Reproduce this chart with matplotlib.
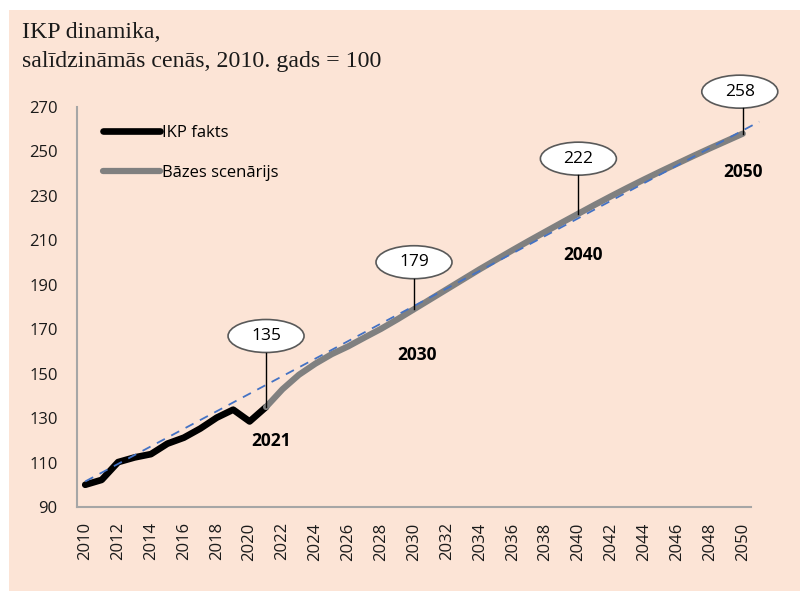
import matplotlib
matplotlib.use('Agg')
import matplotlib.pyplot as plt
from matplotlib.patches import Ellipse, Rectangle
from matplotlib.transforms import ScaledTranslation
from matplotlib.lines import Line2D

# ---- data ----
fact_years = list(range(2010, 2022))
fact_values = [100, 102.2, 110.2, 112.3, 113.8, 118.5, 121.2, 125.3, 130.2, 133.8, 128.5, 135]

scen_years = list(range(2021, 2051))
scen_values = [135, 143, 149.5, 154.5, 158.8, 162.3, 166.3, 170.2, 174.5, 179,
               183.5, 188, 192.5, 197, 201.3, 205.6, 209.8, 213.9, 218, 222,
               226, 229.9, 233.7, 237.4, 241, 244.5, 248, 251.4, 254.7, 258]

trend_years = [2010, 2051]
trend_values = [101.5, 263.4]

callout_years = [2021, 2030, 2040, 2050]
callout_values = [135, 179, 222, 258]
callout_labels = ['135', '179', '222', '258']
year_labels = ['2021', '2030', '2040', '2050']

x_ticks = list(range(2010, 2051, 2))
y_ticks = list(range(90, 271, 20))

title_lines = ['IKP dinamika,', 'salīdzināmās cenās, 2010. gads = 100']
legend_labels = ['IKP fakts', 'Bāzes scenārijs']

# ---- styles ----
BG = '#FCE4D6'
SANS = ['Open Sans', 'DejaVu Sans']
# callout offsets in pixels (dx, dy up)
callout_offsets = [(0, 71), (0, 47), (0, 55), (-3, 42)]
yearlabel_offsets = [(5, -33.5), (3.5, -46), (5, -41), (0, -38)]
ell_w, ell_h = 76, 33

fig = plt.figure(figsize=(8, 5.91), dpi=100)
bg = Rectangle((9 / 800, 0), 1, 581 / 591, transform=fig.transFigure,
               facecolor=BG, edgecolor='none', zorder=-10)
fig.patches.append(bg)

ax = fig.add_axes([77 / 800, 84 / 591, 674 / 800, 400 / 591])
ax.set_zorder(1)
ax.patch.set_alpha(0)

ax.plot(fact_years, fact_values, color='black', lw=4.8, solid_capstyle='round',
        solid_joinstyle='round', zorder=3, label=legend_labels[0])
ax.plot(scen_years, scen_values, color='#808080', lw=4.5, solid_capstyle='round',
        solid_joinstyle='round', zorder=4, label=legend_labels[1])
ax.plot(trend_years, trend_values, color='#4472C4', lw=1.3, ls=(0, (5, 4)),
        zorder=5, clip_on=False)

ax.set_xlim(2009.5, 2050.5)
ax.set_ylim(90, 270)
ax.set_xticks(x_ticks)
ax.set_xticklabels([str(t) for t in x_ticks], rotation=90, family=SANS, fontsize=12)
ax.set_yticks(y_ticks)
ax.set_yticklabels([str(t) for t in y_ticks], family=SANS, fontsize=12)
ax.tick_params(axis='both', length=0, colors='#1a1a1a')
ax.tick_params(axis='y', pad=14)
ax.tick_params(axis='x', pad=11)
for s in ['top', 'right']:
    ax.spines[s].set_visible(False)
for s in ['left', 'bottom']:
    ax.spines[s].set_color('#a6a6a6')
    ax.spines[s].set_linewidth(1.5)

leg = ax.legend(loc='upper left', bbox_to_anchor=(0.0386, 0.956), frameon=False,
                handlelength=3.4, handletextpad=0.15, labelspacing=1.46,
                borderpad=0, borderaxespad=0, prop={'family': SANS, 'size': 12})

# callouts
for yr, val, lab, ylab, (dx, dy), (lx, ly) in zip(callout_years, callout_values, callout_labels,
                                                  year_labels, callout_offsets, yearlabel_offsets):
    tr = fig.dpi_scale_trans + ScaledTranslation(yr, val, ax.transData)
    ell = Ellipse((dx / 100, dy / 100), ell_w / 100, ell_h / 100, transform=tr,
                  facecolor='white', edgecolor='#595959', lw=1.2, zorder=6, clip_on=False)
    ax.add_patch(ell)
    ax.add_line(Line2D([0, 0], [0, (dy - ell_h / 2) / 100], transform=tr, color='black',
                       lw=1.0, zorder=6, clip_on=False))
    ax.annotate(lab, xy=(yr, val), xytext=(dx * 0.72, dy * 0.72), textcoords='offset points',
                ha='center', va='center', family=SANS, fontsize=12.5, zorder=7,
                annotation_clip=False)
    ax.annotate(ylab, xy=(yr, val), xytext=(lx * 0.72, ly * 0.72), textcoords='offset points',
                ha='center', va='center', family=SANS, fontsize=12.5, fontweight='bold',
                zorder=7, annotation_clip=False)

fig.text(22 / 800, 1 - 37.5 / 591, title_lines[0], family=['Liberation Serif', 'DejaVu Serif'],
         fontsize=17.2, ha='left', va='baseline', color='#1a1a1a')
fig.text(22 / 800, 1 - 67 / 591, title_lines[1], family=['Liberation Serif', 'DejaVu Serif'],
         fontsize=17.2, ha='left', va='baseline', color='#1a1a1a')

fig.savefig('out.png', dpi=100)
